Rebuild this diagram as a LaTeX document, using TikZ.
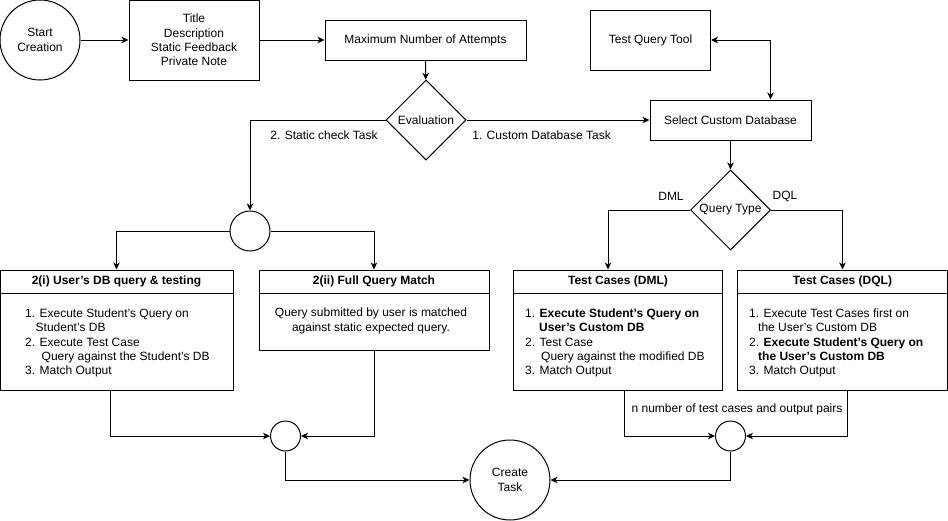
\documentclass[tikz,border=0pt]{standalone}
\usepackage{fontspec}
\setmainfont{Liberation Sans}[Ligatures=ResetAll]
\usepackage{tikz}
\usetikzlibrary{arrows.meta,positioning,shapes.geometric}

\begin{document}
\begin{tikzpicture}[
  x=1pt,y=-1pt,
  font=\fontsize{12pt}{14.3pt}\selectfont,
  every node/.style={inner sep=0pt},
  term/.style={draw,circle,minimum size=80pt,align=center,line width=1pt},
  joint/.style={draw,circle,line width=1pt},
  box/.style={draw,line width=1pt,align=center},
  head/.style={draw,line width=1pt,minimum height=23pt,anchor=north,font=\fontsize{12pt}{14.3pt}\selectfont\bfseries},
  choice/.style={draw,diamond,minimum width=80pt,minimum height=80pt,line width=1pt},
  steps/.style={align=left,anchor=west},
  note/.style={align=center},
  arrow/.style={-{Stealth[length=7pt,width=6.5pt,inset=2pt]},line width=1pt},
  twoway/.style={{Stealth[length=7pt,width=6.5pt,inset=2pt]}-{Stealth[length=7pt,width=6.5pt,inset=2pt]},line width=1pt}
]
\useasboundingbox (0,0) rectangle (948,520);

% top row
\node[term] (start) at (40,40) {Start\\Creation};
\node[box,minimum width=130pt,minimum height=80pt] (info) at (194,40) {Title\\Description\\Static Feedback\\Private Note};
\node[box,minimum width=201pt,minimum height=40pt] (attempts) at (425.5,40) {Maximum Number of Attempts};
\node[choice] (eval) at (426,120) {Evaluation};
\node[box,minimum width=120pt,minimum height=60pt] (querytool) at (650.5,40) {Test Query Tool};
\node[box,minimum width=161pt,minimum height=40pt] (customdb) at (730.5,120) {Select Custom Database};
\node[choice] (qtype) at (730.5,210) {Query Type};
\node[joint,minimum size=40pt] (split) at (250,231) {};

% static check boxes
\node[box,minimum width=233pt,minimum height=120pt] (userdb) at (116.5,330) {};
\node[head,minimum width=233pt] (userdbhead) at (userdb.north) {2(i) User's DB query \& testing};
\node[steps] (userdbsteps) at (25,343) {1. Execute Student's Query on\\\hspace*{10.5pt}Student's DB\\2. Execute Test Case\\\hspace*{16.5pt}Query against the Student's DB\\3. Match Output};

\node[box,minimum width=230pt,minimum height=80pt] (fullmatch) at (374,310) {};
\node[head,minimum width=230pt] (fullmatchhead) at (fullmatch.north) {2(ii) Full Query Match};
\node[note] (fullmatchtext) at (371,321) {Query submitted by user is matched\\against static expected query.};

% custom database boxes
\node[box,minimum width=209pt,minimum height=120pt] (dml) at (618,330) {};
\node[head,minimum width=209pt] (dmlhead) at (dml.north) {Test Cases (DML)};
\node[steps] (dmlsteps) at (525,343) {1. \textbf{Execute Student's Query on}\\\hspace*{14pt}\textbf{User's Custom DB}\\2. Test Case\\\hspace*{16pt}Query against the modified DB\\3. Match Output};

\node[box,minimum width=210pt,minimum height=120pt] (dql) at (842.5,330) {};
\node[head,minimum width=210pt] (dqlhead) at (dql.north) {Test Cases (DQL)};
\node[steps] (dqlsteps) at (749,343) {1. Execute Test Cases first on\\\hspace*{9pt}the User's Custom DB\\2. \textbf{Execute Student's Query on}\\\hspace*{9pt}\textbf{the User's Custom DB}\\3. Match Output};

% merging
\node[joint,minimum size=30pt] (mergeleft) at (285.5,436) {};
\node[joint,minimum size=30pt] (mergeright) at (730.5,436) {};
\node[term] (create) at (510,480) {Create\\Task};

% edge labels
\node (staticlbl) at (324,135) {2. Static check Task};
\node (customlbl) at (541.5,135) {1. Custom Database Task};
\node (dmllbl) at (671,196) {DML};
\node (dqllbl) at (785,196) {DQL};
\node (pairslbl) at (737,409) {n number of test cases and output pairs};

\draw[arrow] (start) -- (info);
\draw[arrow] (info) -- (attempts);
\draw[arrow] (attempts) -- (eval);
\draw[arrow] (eval.west) -| (split.north);
\draw[arrow] (eval) -- (customdb);
\draw[twoway] (querytool.east) -| ([xshift=40pt]customdb.north);
\draw[arrow] (customdb) -- (qtype);
\draw[arrow] (qtype.west) -| ([xshift=-10pt]dml.north);
\draw[arrow] (qtype.east) -| (dql.north);
\draw[arrow] (split.west) -| (userdb.north);
\draw[arrow] (split.east) -| (fullmatch.north);
\draw[arrow] ([xshift=-6.5pt]userdb.south) |- (mergeleft.west);
\draw[arrow] (fullmatch.south) |- (mergeleft.east);
\draw[arrow] (mergeleft.south) |- (create.west);
\draw[arrow] ([xshift=6pt]dml.south) |- (mergeright.west);
\draw[arrow] ([xshift=5pt]dql.south) |- (mergeright.east);
\draw[arrow] (mergeright.south) |- (create.east);
\end{tikzpicture}
\end{document}
